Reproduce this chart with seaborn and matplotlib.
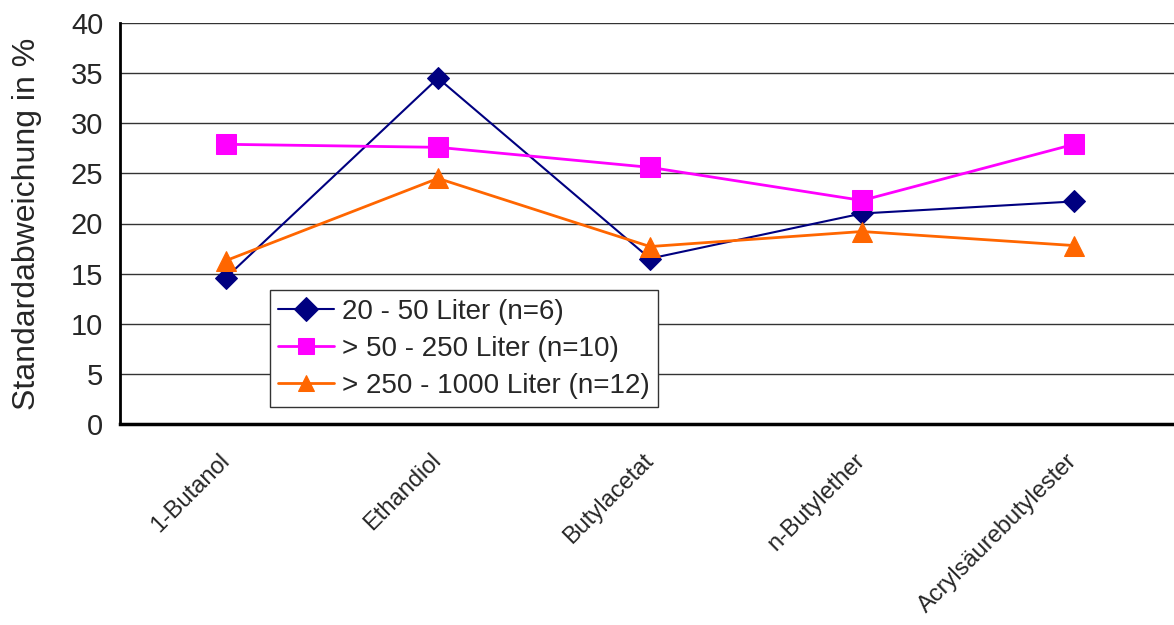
import pandas as pd
import matplotlib
matplotlib.use("Agg")
import matplotlib.pyplot as plt
import seaborn as sns

# Data
substances = ["1-Butanol", "Ethandiol", "Butylacetat", "n-Butylether", "Acrylsäurebutylester"]
small = [14.6, 34.5, 16.5, 21.0, 22.2]      # 20 - 50 Liter (n=6)
medium = [27.9, 27.6, 25.6, 22.3, 27.9]     # > 50 - 250 Liter (n=10)
large = [16.3, 24.5, 17.7, 19.2, 17.8]      # > 250 - 1000 Liter (n=12)
series_names = ["20 - 50 Liter (n=6)", "> 50 - 250 Liter (n=10)", "> 250 - 1000 Liter (n=12)"]

sns.set_style("white")
plt.rcParams["font.family"] = ["Liberation Sans", "DejaVu Sans"]

df = pd.DataFrame({
    "pos": list(range(len(substances))) * 3,
    "wert": small + medium + large,
    "gruppe": [series_names[0]] * 5 + [series_names[1]] * 5 + [series_names[2]] * 5,
})

fig = plt.figure(figsize=(11.74, 6.25), dpi=100)
ax = fig.add_axes([120 / 1174, 1 - 424 / 625, 1060 / 1174, 401 / 625])

styles = {
    series_names[0]: dict(color="#000080", marker="D", markersize=11, linewidth=1.5),
    series_names[1]: dict(color="#FF00FF", marker="s", markersize=14, linewidth=2),
    series_names[2]: dict(color="#FF6600", marker="^", markersize=15, linewidth=2),
}
for name in series_names:
    st = styles[name]
    sub = df[df["gruppe"] == name]
    sns.lineplot(data=sub, x="pos", y="wert", ax=ax, color=st["color"],
                 marker=st["marker"], markersize=st["markersize"],
                 markeredgecolor=st["color"], linewidth=st["linewidth"],
                 label=name, zorder=3)

ax.set_xlim(-0.5, len(substances) - 0.5)
ax.set_ylim(0, 40)
ax.set_yticks(range(0, 41, 5))
ax.yaxis.grid(True, color="#333333", linewidth=1)
ax.set_axisbelow(True)

ax.set_xticks([i - 0.5 for i in range(len(substances) + 1)])
ax.set_xticklabels([])
ax.set_xticks(range(len(substances)), minor=True)
ax.set_xticklabels(substances, minor=True, rotation=45, ha="right",
                   va="center", rotation_mode="anchor", fontsize=17)
ax.tick_params(axis="x", which="minor", length=0, pad=24)
ax.tick_params(axis="x", which="major", direction="out", length=7, width=1, color="#555555")
ax.tick_params(axis="y", direction="out", length=8, width=1, labelsize=21, color="#555555", pad=4)

for s in ["top", "right"]:
    ax.spines[s].set_visible(False)
ax.spines["left"].set_color("black")
ax.spines["left"].set_linewidth(2)
ax.spines["bottom"].set_color("black")
ax.spines["bottom"].set_linewidth(2.5)

ax.set_xlabel("")
ax.set_ylabel("Standardabweichung in %", fontsize=23)
ax.yaxis.set_label_coords(-78 / 1060, 0.5)

leg = ax.legend(loc="lower left", bbox_to_anchor=(0.1415, 0.042), borderaxespad=0,
                fontsize=20, frameon=True, fancybox=False, framealpha=1,
                edgecolor="#333333", handlelength=2.0, handletextpad=0.3,
                labelspacing=0.4, borderpad=0.3)
for h in leg.legend_handles:
    h.set_markersize(12)
leg.get_frame().set_linewidth(1)

fig.savefig("out.png", dpi=100)
plt.close(fig)
